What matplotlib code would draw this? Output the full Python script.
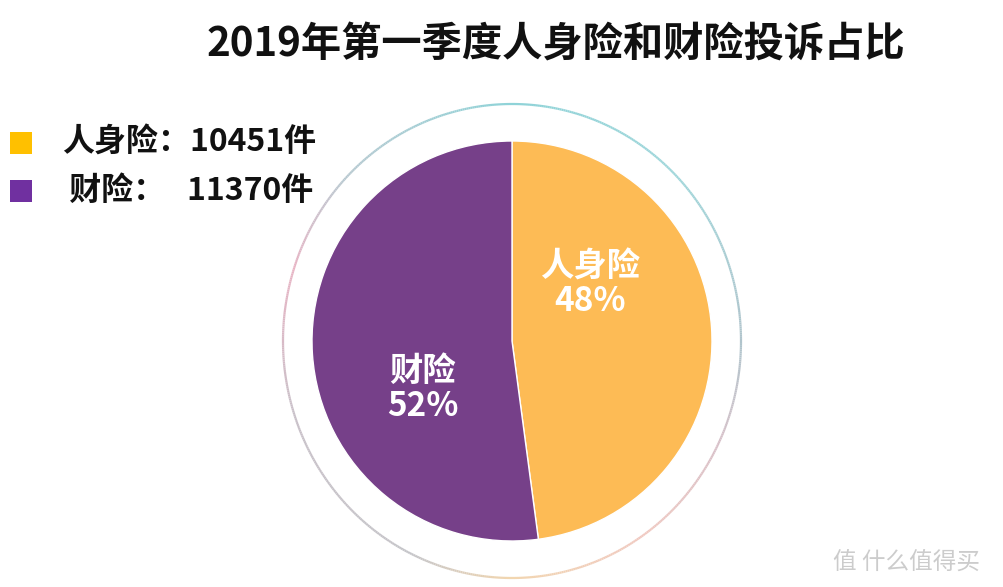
import numpy as np
import matplotlib
matplotlib.use("Agg")
import matplotlib.pyplot as plt
from matplotlib.collections import LineCollection
from matplotlib.colors import LinearSegmentedColormap

plt.rcParams['font.family'] = ['Noto Sans CJK SC', 'DejaVu Sans']

title = "2019年第一季度人身险和财险投诉占比"
categories = ["人身险", "财险"]
counts = [10451, 11370]
slice_colors = ["#FDBB55", "#764089"]
legend_colors = ["#FFC000", "#7030A0"]
legend_texts = ["人身险：10451件", " 财险：   11370件"]

W, H = 1004, 587
fig = plt.figure(figsize=(W / 100, H / 100), dpi=100)
ax = fig.add_axes([0, 0, 1, 1])

def Y(y):
    return H - y

cx, cy = 512, 341
R = 200

total = sum(counts)
wedges, _ = ax.pie(counts, colors=slice_colors, startangle=90, counterclock=False,
                   radius=R, center=(cx, Y(cy)), frame=True,
                   wedgeprops=dict(linewidth=1.0, edgecolor='white'))
ax.set_xlim(0, W)
ax.set_ylim(0, H)
ax.set_aspect('auto')
ax.axis('off')

# percentage labels
pcts = [round(c / total * 100) for c in counts]
label_pos = [(590, 284), (423, 389)]
for cat, p, (lx, ly) in zip(categories, pcts, label_pos):
    ax.text(lx, Y(ly), f"{cat}\n{p}%", color='white', fontsize=24, fontweight='bold',
            ha='center', va='center', linespacing=1.05)

# decorative gradient ring
t = np.linspace(0, 2 * np.pi, 721)
rx, ry = 229, 237
xs = cx + rx * np.cos(t)
ys = Y(cy) + ry * np.sin(t)
pts = np.array([xs, ys]).T.reshape(-1, 1, 2)
segs = np.concatenate([pts[:-1], pts[1:]], axis=1)
ring_cmap = LinearSegmentedColormap.from_list(
    'ring', [(0.0, '#b0c4cc'), (0.12, '#9fd6da'), (0.25, '#8fd3d8'),
             (0.38, '#b8c8d0'), (0.45, '#e8b4c4'), (0.55, '#c8c0c8'),
             (0.68, '#c4c4c8'), (0.75, '#f2d6b0'), (0.85, '#f0c8c0'),
             (0.93, '#d8c0c8'), (1.0, '#b0c4cc')])
lc = LineCollection(segs, cmap=ring_cmap, linewidths=1.6)
lc.set_array(np.linspace(0, 1, len(segs)))
ax.add_collection(lc)

# title
ax.text(556, Y(45), title, fontsize=29, fontweight='bold', ha='center', va='center', color='#111111')

# legend
leg_y = [143, 191]
for col, txt, ly in zip(legend_colors, legend_texts, leg_y):
    ax.add_patch(plt.Rectangle((10, Y(ly) - 11), 22, 22, color=col, lw=0))
    ax.text(62, Y(ly), txt, fontsize=23, fontweight='bold', ha='left', va='center', color='#111111')

# watermark
ax.text(907, Y(563), "值 什么值得买", fontsize=17, color='#cccccc', ha='center', va='center')

fig.savefig("out.png", dpi=100, facecolor='white')
